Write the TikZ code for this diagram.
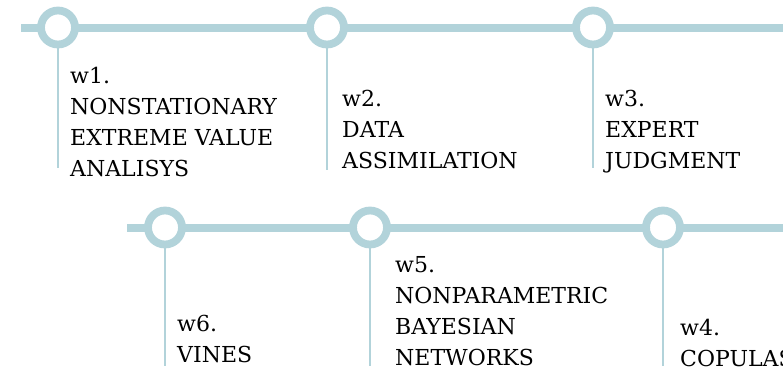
\documentclass[tikz,border=0pt]{standalone}
\usepackage{fontspec}
\setmainfont{DejaVu Serif}
\usetikzlibrary{positioning}
\definecolor{railblue}{RGB}{178,211,218}

\begin{document}
\begin{tikzpicture}[x=1pt,y=-1pt,
        ring/.style={circle,draw=railblue,line width=7.8pt,fill=white,minimum size=34pt,inner sep=0pt,outer sep=0pt},
        rail/.style={railblue,line width=8pt},
        drop/.style={railblue,line width=1.5pt},
        topic/.style={anchor=north west,inner sep=0pt,align=left,font=\fontsize{22}{31}\selectfont}]
        \useasboundingbox (0,0) rectangle (783,372);
        \clip (0,0) rectangle (783,372);
        % upper line
        \coordinate (a0) at (21,27.5);
        \node [ring] (a1) at (58,27.5) {};
        \node [ring] (a2) at (327,27.5) {};
        \node [ring] (a3) at (593,27.5) {};
        \coordinate (a4) at (790,27.5);
        \draw [rail] (a0) -- (a1) -- (a2) -- (a3) -- (a4);
        \coordinate (d1) at (58,168);
        \coordinate (d2) at (327,170);
        \coordinate (d3) at (593,168);
        \draw [drop] (a1) -- (d1);
        \draw [drop] (a2) -- (d2);
        \draw [drop] (a3) -- (d3);
        \node [topic] (w1) at (70,67) {w1.\\NONSTATIONARY\\EXTREME VALUE\\ANALISYS};
        \node [topic] (w2) at (342,90) {w2.\\DATA\\ASSIMILATION};
        \node [topic] (w3) at (605,90) {w3.\\EXPERT\\JUDGMENT};
        % lower line
        \coordinate (b0) at (127,227.5);
        \node [ring] (b1) at (165,227.5) {};
        \node [ring] (b2) at (370,227.5) {};
        \node [ring] (b3) at (663,227.5) {};
        \coordinate (b4) at (790,227.5);
        \draw [rail] (b0) -- (b1) -- (b2) -- (b3) -- (b4);
        \coordinate (e1) at (165,366);
        \coordinate (e2) at (370,366);
        \coordinate (e3) at (663,366);
        \draw [drop] (b1) -- (e1);
        \draw [drop] (b2) -- (e2);
        \draw [drop] (b3) -- (e3);
        \node [topic] (w6) at (177,315) {w6.\\VINES};
        \node [topic] (w5) at (395,256) {w5.\\NONPARAMETRIC\\BAYESIAN\\NETWORKS};
        \node [topic] (w4) at (680,319) {w4.\\COPULAS};
\end{tikzpicture}
\end{document}
